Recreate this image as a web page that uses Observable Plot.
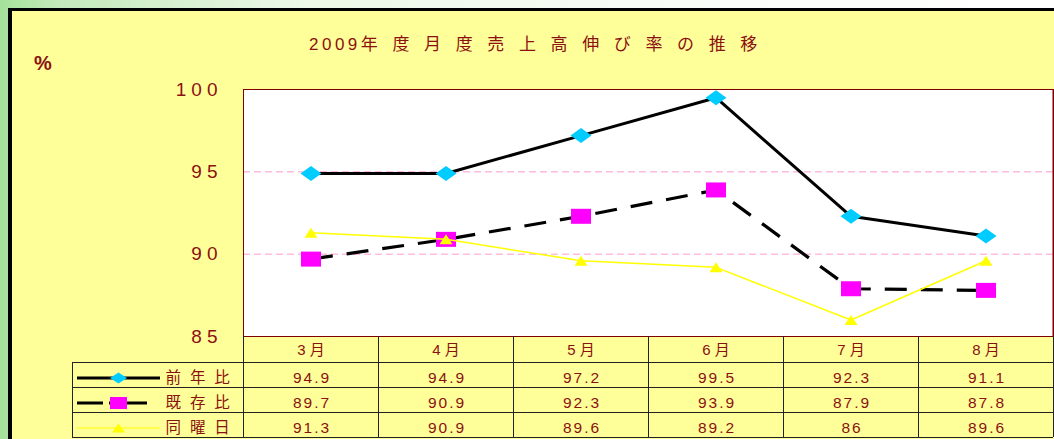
<!DOCTYPE html>
<html><head><meta charset="utf-8">
<script src="https://cdn.jsdelivr.net/npm/d3@7"></script>
<script src="https://cdn.jsdelivr.net/npm/@observablehq/plot@0.6"></script>
<style>
html,body{margin:0;padding:0;background:#fff;}
#wrap{position:relative;width:1054px;height:439px;overflow:hidden;
  background:linear-gradient(90deg,#a5e19b 0,#c4eabb 60px,#ecf8e8 300px,#f9fdf8 700px,#fff 100%);
  font-family:"Liberation Sans","Noto Sans CJK JP",sans-serif;color:#8b1111;}
#panel{position:absolute;left:8px;top:8px;width:1100px;height:500px;background:#ffff99;border-left:4px solid #000;border-top:3px solid #000;}
#title{position:absolute;left:309px;top:35px;font-size:17px;white-space:nowrap;line-height:20px;}
#pct{position:absolute;left:34px;top:52px;font-size:20px;font-weight:bold;line-height:22px;}
#chart,#table{position:absolute;left:0;}
#chart{top:0;} #table{top:336px;}
svg{overflow:visible;}
</style></head>
<body>
<div id="wrap"><div id="panel"></div><div id="title"></div><div id="pct">%</div><div id="chart"></div><div id="table"></div></div>
<script>
// ---- data ----
const titleYear = "2009";
const titleRest = "年度月度売上高伸び率の推移";
const months = ["3月","4月","5月","6月","7月","8月"];
const seriesNames = ["前年比","既存比","同曜日"];
const zennenhi = [94.9, 94.9, 97.2, 99.5, 92.3, 91.1];
const kizonhi  = [89.7, 90.9, 92.3, 93.9, 87.9, 87.8];
const doyobi   = [91.3, 90.9, 89.6, 89.2, 86, 89.6];
const yTicks = [85, 90, 95, 100];
const gridVals = [90, 95];

// ---- styles ----
const FONT = '"Liberation Sans","Noto Sans CJK JP",sans-serif';
const RED = "#8b1111";
const diamond = (w,h) => ({draw(c){c.moveTo(0,-h/2);c.lineTo(w/2,0);c.lineTo(0,h/2);c.lineTo(-w/2,0);c.closePath();}});
const rectS = (w,h) => ({draw(c){c.rect(-w/2,-h/2,w,h);}});
const tri = (w,h) => ({draw(c){c.moveTo(0,-h/2);c.lineTo(w/2,h/2);c.lineTo(-w/2,h/2);c.closePath();}});
const seriesValues = [zennenhi, kizonhi, doyobi];
const seriesStyle = [
  {stroke:"#000", width:3, dash:null, marker:diamond(21,15), lmarker:diamond(17,11), color:"#00ccff", lInsetR:83, lDash:null},
  {stroke:"#000", width:3.2, dash:"22 14", marker:rectS(20,15), lmarker:rectS(17,12), color:"#ff00ff", lInsetR:96, lDash:"26 6 38 100"},
  {stroke:"#ffff00", width:1.5, dash:null, marker:tri(13,10), lmarker:tri(13,9), color:"#ffff00", lInsetR:83, lDash:null}
];

// title
document.getElementById("title").innerHTML =
  `<span style="letter-spacing:3.5px">${titleYear}</span><span style="letter-spacing:4.95px">${titleRest.split("").join(" ")}</span>`;

const idx = d3.range(months.length);
const xDomain = [-0.5, months.length - 0.5];
const ML = 243, MR = 1, W = 1054;
const colW = (W - MR - ML) / months.length;

// ---- chart ----
const chartMarks = [
  Plot.frame({fill:"#fff"}),
  Plot.ruleY(gridVals, {stroke:"#ff99cc", strokeDasharray:"7 4"}),
  Plot.frame({stroke:"#800000"}),
  Plot.ruleX([xDomain[1]], {stroke:"#800000", strokeWidth:2})
];
seriesValues.forEach((vals, s) => {
  const st = seriesStyle[s];
  chartMarks.push(Plot.line(idx, {x:i=>i, y:i=>vals[i], stroke:st.stroke, strokeWidth:st.width,
    strokeDasharray:st.dash, strokeLinecap:"butt", strokeLinejoin:"miter"}));
  chartMarks.push(Plot.dot(idx, {x:i=>i, y:i=>vals[i], r:1, symbol:st.marker, fill:st.color, stroke:"none"}));
});
const chart = Plot.plot({
  width: W, height: 338, marginTop: 89, marginBottom: 2, marginLeft: ML, marginRight: MR,
  x: {domain: xDomain, axis: null},
  y: {domain: [85, 100], ticks: yTicks, tickSize: 0, tickPadding: 21, label: null, tickFormat: d => String(d)},
  style: {background:"transparent", color:RED, fontFamily:FONT, fontSize:"19px", letterSpacing:"5px", overflow:"visible"},
  marks: chartMarks
});
document.getElementById("chart").append(chart);

// ---- table ----
const L = xDomain[0] - (ML - 72) / colW;
const bounds = d3.range(months.length + 1).map(k => xDomain[0] + k);
const tableMarks = [
  Plot.ruleX(bounds, {y1: -0.04, y2: 4, stroke:"#222"}),
  Plot.ruleX([L], {y1: 1, y2: 4, stroke:"#222"}),
  Plot.ruleY([1,2,3,4], {x1: L, x2: xDomain[1], stroke:"#222"}),
  Plot.text(months, {x:(d,i)=>i, y:0.5, dy:0.5, dx:2, text:d=>d, fill:RED, fontSize:15, fontFamily:FONT})
];
seriesValues.forEach((vals, s) => {
  const st = seriesStyle[s];
  const ry = s + 1.5;
  tableMarks.push(Plot.text(vals, {x:(d,i)=>i, y:ry, dy:3, dx:1, text:d=>String(d), fill:RED, fontSize:15.5, fontFamily:FONT}));
  tableMarks.push(Plot.ruleY([ry], {x1:L, x2:xDomain[0], dy:3, insetLeft:5, insetRight:st.lInsetR,
    stroke:st.stroke, strokeWidth: s===2 ? 1.2 : 3, strokeDasharray:st.lDash}));
  tableMarks.push(Plot.dot([0], {x:L, y:ry, dx:46, dy:3, r:1, symbol:st.lmarker, fill:st.color, stroke:"none"}));
});
tableMarks.push(Plot.text(seriesNames, {x:L, y:(d,i)=>i+1.5, dx:93, dy:3, textAnchor:"start",
  text:d=>d.split("").join(" "), fill:RED, fontSize:15.5, fontFamily:FONT}));

const table = Plot.plot({
  width: W, height: 103, marginTop: 0, marginBottom: 2, marginLeft: ML, marginRight: MR,
  x: {domain: xDomain, axis: null},
  y: {domain: [0, 4], range: [1, 101], axis: null},
  style: {background:"transparent", color:RED, fontFamily:FONT, overflow:"visible"},
  marks: tableMarks
});
const monthSet = new Set(months);
d3.select(table).selectAll("text").each(function() {
  const t = this.textContent;
  let ls = "2px";
  if (monthSet.has(t)) ls = "4px";
  else if (/[^\d.\s]/.test(t)) ls = "2.3px";
  this.style.letterSpacing = ls;
});
document.getElementById("table").append(table);
</script>
</body></html>
